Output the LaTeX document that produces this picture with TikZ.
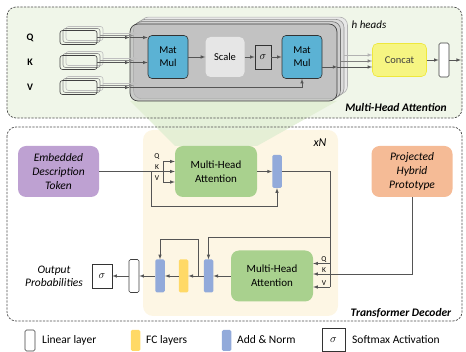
\documentclass[tikz,border=0pt]{standalone}
\usepackage{fontspec}
\setmainfont{Carlito}

\definecolor{topgreen}{RGB}{240,246,233}
\definecolor{beamgreen}{RGB}{225,238,211}
\definecolor{cream}{RGB}{253,246,228}
\definecolor{matblue}{RGB}{91,178,212}
\definecolor{scalegray}{RGB}{230,230,230}
\definecolor{concatyellow}{RGB}{246,245,130}
\definecolor{concatedge}{RGB}{238,232,60}
\definecolor{embpurple}{RGB}{190,161,210}
\definecolor{protoorange}{RGB}{245,187,150}
\definecolor{mhagreen}{RGB}{169,209,142}
\definecolor{anblue}{RGB}{146,170,218}
\definecolor{fcyellow}{RGB}{255,217,102}
\definecolor{linegray}{RGB}{85,85,85}

\tikzset{
	panel/.style = {draw = black!70, dash pattern = on 2.2pt off 1.3pt, line width = 0.7pt, rounded corners = 9pt},
	conn/.style = {draw = linegray, line width = 0.6pt, -latex},
	plain/.style = {draw = linegray, line width = 0.6pt},
	headsbox/.style = {draw = black!75, fill = black!25, fill opacity = 0.8, rounded corners = 8pt, line width = 0.7pt, minimum width = 207pt, minimum height = 77pt},
	linbox/.style = {draw = black!75, rounded corners = 2.5pt, line width = 0.6pt, minimum width = 37pt, minimum height = 14pt, inner sep = 0pt},
	matmul/.style = {draw = black!80, fill = matblue, rounded corners = 4pt, line width = 0.6pt, minimum width = 40pt, minimum height = 43pt, align = center, inner sep = 0pt, font = \fontsize{10.5}{13}\selectfont},
	sigbox/.style = {draw = black!80, line width = 0.6pt, inner sep = 0pt, font = \fontsize{11}{13}\selectfont},
	thinbox/.style = {rounded corners = 1.5pt, minimum width = 9.5pt, minimum height = 33pt, inner sep = 0pt},
	mhabox/.style = {fill = mhagreen, rounded corners = 8pt, minimum width = 82pt, minimum height = 51pt, align = center, font = \fontsize{11}{14}\selectfont},
	inbox/.style = {rounded corners = 8pt, minimum width = 81pt, minimum height = 51pt, align = center, font = \fontsize{11.5}{14}\selectfont\itshape},
	qkvsmall/.style = {inner sep = 0pt, font = \fontsize{7.5}{8}\selectfont},
	legtext/.style = {anchor = west, inner sep = 0pt, font = \fontsize{11.5}{13}\selectfont},
	paneltitle/.style = {inner sep = 0pt, font = \fontsize{11.5}{13}\selectfont\bfseries\itshape}
}

\begin{document}
\begin{tikzpicture}[x = 1pt, y = -1pt]
	\useasboundingbox (0, 0) rectangle (466, 352);

	% backgrounds
	\fill[topgreen, rounded corners = 9pt] (7, 7) rectangle (462, 118);
	\fill[cream, rounded corners = 10pt] (143, 130) rectangle (338, 316);
	\fill[beamgreen, opacity = 0.85] (130, 101) -- (337, 101) -- (257, 146) -- (175, 146) -- cycle;
	\draw[panel] (7, 7) rectangle (462, 118);
	\draw[panel] (7, 127) rectangle (462, 321);

	% multi-head attention, h heads
	\foreach \k/\f/\d in {3/black!9/black!30, 2/black!14/black!42, 1/black!19/black!55}
		\draw[fill = \f, draw = \d, rounded corners = 8pt, line width = 0.6pt] (130 + 3.5*\k, 24 - 2.3*\k) rectangle (337 + 3.5*\k, 101 - 2.3*\k);
	\node[headsbox] (heads) at (233.5, 62.5) {};

	\node[matmul] (mm1) at (168, 57) {Mat\\Mul};
	\node[fill = scalegray, rounded corners = 5pt, minimum width = 39pt, minimum height = 40pt, inner sep = 0pt, font = \fontsize{10.5}{13}\selectfont] (scale) at (225, 57) {Scale};
	\node[sigbox, minimum width = 16pt, minimum height = 24pt] (sig1) at (263, 57) {$\sigma$};
	\node[matmul] (mm2) at (302, 57) {Mat\\Mul};
	\draw[conn] (mm1) -- (scale);
	\draw[conn] (scale) -- (sig1);
	\draw[conn] (sig1) -- (mm2);

	\foreach \n/\t/\y in {q/Q/37.5, k/K/62.5, v/V/87.5} {
		\foreach \k/\c in {2/black!25, 1/black!45} {
			\draw[\c, rounded corners = 2.5pt, line width = 0.6pt] (60 + 3*\k, \y - 7 - 2*\k) rectangle (97 + 3*\k, \y + 7 - 2*\k);
			\draw[\c, line width = 0.5pt, -latex] (97 + 3*\k, \y - 2*\k) -- (130 + 3.5*\k, \y - 2*\k);
		}
		\node[linbox] (lin\n) at (78.5, \y) {};
		\node[inner sep = 0pt, font = \fontsize{10}{12}\selectfont\bfseries] (lbl\n) at (30, \y) {\t};
		\draw[conn] (lin\n.east) -- (lin\n.east -| heads.west);
	}
	\draw[conn] (linq.east -| heads.west) -- (linq.east -| mm1.west);
	\draw[conn] (link.east -| heads.west) -- (link.east -| mm1.west);
	\draw[conn] (linv.east -| heads.west) -| (mm2.south);

	\coordinate (hout) at ([yshift = -10pt]mm2.east -| heads.east);
	\draw[conn] ([yshift = -10pt]mm2.east) -- (hout);
	\node[fill = concatyellow, draw = concatedge, line width = 0.6pt, rounded corners = 5pt, minimum width = 54pt, minimum height = 33pt, inner sep = 0pt, text = black!75, font = \fontsize{10.5}{13}\selectfont] (concat) at (399.5, 60) {Concat};
	\draw[conn] (hout) -- (hout -| concat.west);
	\foreach \k/\c in {1/black!50, 2/black!30} {
		\coordinate (hs\k) at ([shift = {(3.5*\k, -6*\k)}]hout);
		\draw[\c, line width = 0.6pt, -latex] (hs\k) -- (hs\k -| concat.west);
	}
	\node[thinbox, draw = black!75, line width = 0.6pt, fill = white, minimum width = 10pt, minimum height = 34pt] (linout) at (444, 60) {};
	\coordinate (mhaout) at (461, 60);
	\draw[conn] (concat) -- (linout);
	\draw[conn] (linout) -- (mhaout);

	\node[inner sep = 0pt, font = \fontsize{11}{13}\selectfont\itshape] (hheads) at (369, 25) {h heads};
	\node[paneltitle] (mhatitle) at (396, 108) {Multi-Head Attention};

	% transformer decoder
	\node[inner sep = 0pt, font = \fontsize{12}{14}\selectfont\itshape] (xn) at (320, 143) {xN};
	\node[inbox, fill = embpurple] (emb) at (58.5, 171.5) {Embedded\\Description\\Token};
	\node[mhabox] (mha1) at (216, 171.5) {Multi-Head\\Attention};
	\node[thinbox, fill = anblue] (an1) at (277, 171.5) {};
	\node[inbox, fill = protoorange] (proto) at (412, 171.5) {Projected\\Hybrid\\Prototype};

	\coordinate (q1) at (163, 161.5);
	\coordinate (k1) at (163, 171.5);
	\coordinate (v1) at (163, 182);
	\coordinate (res1) at (151, 171.5);
	\coordinate (res1b) at (151, 206);
	\draw[plain] (emb.east) -- (k1);
	\draw[plain] (q1) -- (v1);
	\foreach \p in {q1, k1, v1}
		\draw[conn] (\p) -- (\p -| mha1.west);
	\node[qkvsmall] (lq1) at (157, 157) {Q};
	\node[qkvsmall] (lk1) at (157, 167.5) {K};
	\node[qkvsmall] (lv1) at (157, 178) {V};
	\draw[conn] (res1) -- (res1b) -| (an1.south);
	\draw[conn] (mha1) -- (an1);

	\node[mhabox] (mha2) at (272, 276) {Multi-Head\\Attention};
	\node[thinbox, fill = anblue] (an2) at (208.5, 276) {};
	\node[thinbox, fill = fcyellow] (fc) at (183.5, 276) {};
	\node[thinbox, fill = anblue] (an3) at (160, 276) {};
	\node[thinbox, draw = black!75, line width = 0.6pt, fill = white, minimum width = 10pt] (lin2) at (134, 276) {};
	\node[sigbox, fill = white, minimum width = 20pt, minimum height = 24pt] (sig2) at (102, 276) {$\sigma$};
	\node[inner sep = 0pt, align = center, font = \fontsize{11.5}{13}\selectfont\itshape] (outp) at (54, 276.5) {Output\\Probabilities};

	\coordinate (turn1) at (330, 171.5);
	\coordinate (q2) at (330, 263.5);
	\coordinate (k2) at (412, 274);
	\coordinate (v2) at (330, 287);
	\coordinate (res2) at (330, 237.5);
	\draw[plain] (an1.east) -- (turn1) -- (v2);
	\draw[conn] (q2) -- (q2 -| mha2.east);
	\draw[conn] (v2) -- (v2 -| mha2.east);
	\draw[conn] (proto.south) -- (k2) -- (k2 -| mha2.east);
	\node[qkvsmall] (lq2) at (324, 260) {Q};
	\node[qkvsmall] (lk2) at (324, 270.5) {K};
	\node[qkvsmall] (lv2) at (324, 283.5) {V};
	\draw[conn] (res2) -| (an2.north);

	\coordinate (res3) at (198, 276);
	\coordinate (res3b) at (198, 239.5);
	\draw[conn] (mha2) -- (an2);
	\draw[conn] (an2) -- (fc);
	\draw[conn] (res3) -- (res3b) -| (an3.north);
	\draw[conn] (fc) -- (an3);
	\draw[conn] (an3) -- (lin2);
	\draw[conn] (lin2) -- (sig2);

	\node[paneltitle] (dectitle) at (401, 313) {Transformer Decoder};

	% legend
	\node[thinbox, draw = black!75, line width = 0.6pt, fill = white, minimum width = 10pt, minimum height = 21pt] (leglin) at (30, 340.5) {};
	\node[legtext] (tlin) at (42, 340) {Linear layer};
	\node[thinbox, fill = fcyellow, minimum height = 21pt] (legfc) at (135.5, 340.5) {};
	\node[legtext] (tfc) at (146, 340) {FC layers};
	\node[thinbox, fill = anblue, minimum height = 21pt] (legan) at (226.5, 340.5) {};
	\node[legtext] (tan) at (237, 340) {Add \& Norm};
	\node[sigbox, minimum width = 23pt, minimum height = 23pt] (legsig) at (333.5, 340) {$\sigma$};
	\node[legtext] (tsig) at (352, 340) {Softmax Activation};
\end{tikzpicture}
\end{document}
